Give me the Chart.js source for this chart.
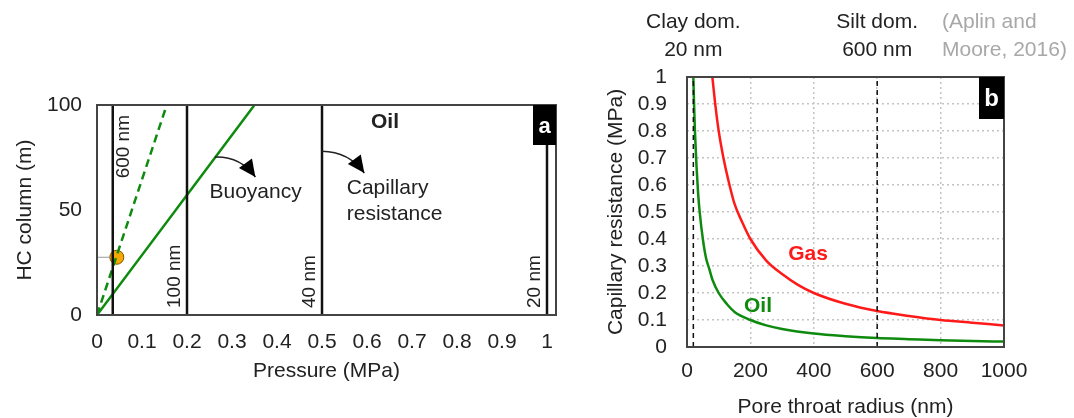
<!DOCTYPE html>
<html>
<head>
<meta charset="utf-8">
<script src="https://cdn.jsdelivr.net/npm/chart.js@4.4.0/dist/chart.umd.min.js"></script>
<style>
  html, body { margin: 0; padding: 0; background: #fff; }
  #wrap { position: relative; width: 1074px; height: 418px; }
  canvas { position: absolute; top: 0; }
  #chartA { left: 0; }
  #chartB { left: 580px; }
</style>
</head>
<body>
<div id="wrap">
  <canvas id="chartA" width="580" height="418"></canvas>
  <canvas id="chartB" width="494" height="418"></canvas>
</div>
<script>
// ---- panel a : HC column vs pressure ----
const pressureTicks = [0, 0.1, 0.2, 0.3, 0.4, 0.5, 0.6, 0.7, 0.8, 0.9, 1];
const columnTicks = [0, 50, 100];
const poreLabels = ['600 nm', '100 nm', '40 nm', '20 nm'];
const poreEntryPressure = [0.035, 0.2, 0.5, 1.0];
const buoyancySolid = [{ x: 0, y: 0 }, { x: 0.35, y: 100 }];
const buoyancyDashed = [{ x: 0, y: 0 }, { x: 0.155, y: 100 }];
const markerPoint = [{ x: 0.044, y: 27.5 }];

// ---- panel b : capillary resistance vs pore throat radius ----
const radiusTicks = [0, 200, 400, 600, 800, 1000];
const resistanceTicks = [0, 0.1, 0.2, 0.3, 0.4, 0.5, 0.6, 0.7, 0.8, 0.9, 1];
const oilRadius = [20, 22, 25, 30, 35, 40, 50, 60, 70, 80, 100, 125, 150, 200, 250, 300, 400, 500, 600, 700, 800, 900, 1000];
const oilResistance = [1.0, 0.91, 0.8, 0.67, 0.57, 0.5, 0.4, 0.33, 0.29, 0.25, 0.2, 0.16, 0.13, 0.1, 0.08, 0.067, 0.05, 0.04, 0.033, 0.029, 0.025, 0.022, 0.02];
const gasRadius = [80, 90, 100, 115, 130, 150, 175, 200, 250, 300, 350, 400, 500, 600, 700, 800, 900, 1000];
const gasResistance = [1.0, 0.89, 0.8, 0.7, 0.62, 0.53, 0.46, 0.4, 0.32, 0.27, 0.23, 0.2, 0.16, 0.133, 0.115, 0.1, 0.09, 0.08];
const domainRadius = [20, 600];
const domainLabels = [['Clay dom.', '20 nm'], ['Silt dom.', '600 nm']];

const FONT = "'Liberation Sans', Arial, sans-serif";
const TXT = '#222';
const GREEN = '#0e8a0e';
const RED = '#ff1a1a';

function arrow(ctx, x0, y0, x1, y1, bend) {
  const dx = x1 - x0, dy = y1 - y0, len = Math.hypot(dx, dy);
  const cx = (x0 + x1) / 2 + bend * dy / len;
  const cy = (y0 + y1) / 2 - bend * dx / len;
  ctx.save();
  ctx.strokeStyle = '#222';
  ctx.lineWidth = 1.5;
  ctx.beginPath();
  ctx.moveTo(x0, y0);
  ctx.quadraticCurveTo(cx, cy, x1, y1);
  ctx.stroke();
  const ang = Math.atan2(y1 - cy, x1 - cx);
  const L = 17, W = 8;
  ctx.fillStyle = '#000';
  ctx.beginPath();
  ctx.moveTo(x1, y1);
  ctx.lineTo(x1 - L * Math.cos(ang) + W * Math.sin(ang), y1 - L * Math.sin(ang) - W * Math.cos(ang));
  ctx.lineTo(x1 - L * Math.cos(ang) - W * Math.sin(ang), y1 - L * Math.sin(ang) + W * Math.cos(ang));
  ctx.closePath();
  ctx.fill();
  ctx.restore();
}

const panelA = {
  id: 'panelA',
  afterDatasetsDraw(chart) {
    const { ctx, chartArea: a, scales: { x, y } } = chart;
    ctx.save();
    // frame
    ctx.strokeStyle = '#444';
    ctx.lineWidth = 2;
    ctx.strokeRect(a.left, a.top, a.right - a.left, a.bottom - a.top);

    // pore size labels, rotated
    ctx.font = '19px ' + FONT;
    ctx.fillStyle = TXT;
    ctx.textBaseline = 'middle';
    poreLabels.forEach((lab, i) => {
      const px = x.getPixelForValue(poreEntryPressure[i]);
      ctx.save();
      if (i === 0) {
        ctx.translate(px + 11, a.top + 10);
        ctx.rotate(-Math.PI / 2);
        ctx.textAlign = 'right';
      } else {
        ctx.translate(px - 12, a.bottom - 7);
        ctx.rotate(-Math.PI / 2);
        ctx.textAlign = 'left';
      }
      ctx.fillText(lab, 0, 0);
      ctx.restore();
    });

    // annotations
    ctx.font = '21px ' + FONT;
    ctx.textAlign = 'left';
    ctx.fillText('Buoyancy', x.getPixelForValue(0.25), y.getPixelForValue(58.5));
    ctx.fillText('Capillary', x.getPixelForValue(0.555), y.getPixelForValue(60.5));
    ctx.fillText('resistance', x.getPixelForValue(0.555), y.getPixelForValue(48));
    ctx.font = 'bold 21px ' + FONT;
    ctx.textAlign = 'center';
    ctx.fillText('Oil', x.getPixelForValue(0.64), y.getPixelForValue(92));

    arrow(ctx, x.getPixelForValue(0.262), y.getPixelForValue(75.2),
               x.getPixelForValue(0.352), y.getPixelForValue(65.7), 12);
    arrow(ctx, x.getPixelForValue(0.5), y.getPixelForValue(78),
               x.getPixelForValue(0.594), y.getPixelForValue(67.6), 12);

    // panel letter
    ctx.fillStyle = '#000';
    ctx.fillRect(a.right - 23, a.top, 23, 40);
    ctx.fillStyle = '#fff';
    ctx.font = 'bold 22px ' + FONT;
    ctx.textAlign = 'center';
    ctx.fillText('a', a.right - 11.5, a.top + 22);
    ctx.restore();
  }
};

const panelB = {
  id: 'panelB',
  afterDatasetsDraw(chart) {
    const { ctx, chartArea: a, scales: { x, y } } = chart;
    ctx.save();
    ctx.strokeStyle = '#444';
    ctx.lineWidth = 2;
    ctx.strokeRect(a.left, a.top, a.right - a.left, a.bottom - a.top);

    ctx.font = 'bold 21px ' + FONT;
    ctx.textAlign = 'center';
    ctx.textBaseline = 'middle';
    ctx.fillStyle = RED;
    ctx.fillText('Gas', x.getPixelForValue(382), y.getPixelForValue(0.342));
    ctx.fillStyle = GREEN;
    ctx.fillText('Oil', x.getPixelForValue(224), y.getPixelForValue(0.152));

    // domain labels above the plot
    ctx.font = '21px ' + FONT;
    ctx.fillStyle = TXT;
    domainLabels.forEach((lines, i) => {
      const px = x.getPixelForValue(domainRadius[i]);
      ctx.fillText(lines[0], px, 22);
      ctx.fillText(lines[1], px, 50);
    });
    ctx.fillStyle = '#a8a8a8';
    ctx.textAlign = 'left';
    ctx.fillText('(Aplin and', 362, 22);
    ctx.fillText('Moore, 2016)', 362, 50);

    ctx.fillStyle = '#000';
    ctx.fillRect(a.right - 25, a.top, 25, 42);
    ctx.fillStyle = '#fff';
    ctx.font = 'bold 24px ' + FONT;
    ctx.textAlign = 'center';
    ctx.fillText('b', a.right - 12.5, a.top + 22);
    ctx.restore();
  }
};

const tickFont = { family: FONT, size: 21 };
const titleFont = { family: FONT, size: 21, lineHeight: 1 };

// panel a
new Chart(document.getElementById('chartA'), {
  type: 'scatter',
  data: {
    datasets: [
      ...poreEntryPressure.map(p => ({
        data: [{ x: p, y: 0 }, { x: p, y: 100 }],
        showLine: true, borderColor: '#111', borderWidth: 2.5, pointRadius: 0
      })),
      { data: buoyancySolid, showLine: true, borderColor: GREEN, borderWidth: 2.5, pointRadius: 0 },
      { data: buoyancyDashed, showLine: true, borderColor: GREEN, borderWidth: 2.5, borderDash: [8, 5], pointRadius: 0 },
      { data: [{ x: 0, y: markerPoint[0].y }, { x: 0.03, y: markerPoint[0].y }], showLine: true, borderColor: '#999', borderWidth: 1, pointRadius: 0 },
      { data: markerPoint, pointRadius: 7, backgroundColor: '#f7a800', borderColor: '#7a5800', borderWidth: 1 }
    ]
  },
  options: {
    responsive: false,
    animation: false,
    layout: { padding: { top: 105, right: 24, left: 0, bottom: 0 } },
    plugins: { legend: { display: false }, tooltip: { enabled: false } },
    scales: {
      x: {
        type: 'linear', min: 0, max: 1.02,
        afterBuildTicks: s => { s.ticks = pressureTicks.map(v => ({ value: v })); },
        afterFit: s => { s.height = 103; },
        grid: { display: false, drawTicks: false },
        border: { display: false },
        ticks: { padding: 15, font: tickFont, color: TXT, maxRotation: 0, autoSkip: false, callback: v => String(v) },
        title: { display: true, text: 'Pressure (MPa)', font: titleFont, color: TXT, padding: { top: 0, bottom: 36 } }
      },
      y: {
        type: 'linear', min: 0, max: 100,
        afterBuildTicks: s => { s.ticks = columnTicks.map(v => ({ value: v })); },
        afterFit: s => { s.width = 97; },
        grid: { display: false, drawTicks: false },
        border: { display: false },
        ticks: { padding: 15, font: tickFont, color: TXT, callback: v => String(v) },
        title: { display: true, text: 'HC column (m)', font: titleFont, color: TXT, padding: { top: 15, bottom: 0 } }
      }
    }
  },
  plugins: [panelA]
});

// panel b
new Chart(document.getElementById('chartB'), {
  type: 'scatter',
  data: {
    datasets: [
      ...domainRadius.map(r => ({
        data: [{ x: r, y: 0 }, { x: r, y: 1 }],
        showLine: true, borderColor: '#111', borderWidth: 1.5, borderDash: [5, 4], pointRadius: 0
      })),
      {
        data: gasRadius.map((r, i) => ({ x: r, y: gasResistance[i] })),
        showLine: true, borderColor: RED, borderWidth: 2.5, pointRadius: 0, cubicInterpolationMode: 'monotone'
      },
      {
        data: oilRadius.map((r, i) => ({ x: r, y: oilResistance[i] })),
        showLine: true, borderColor: GREEN, borderWidth: 2.5, pointRadius: 0, cubicInterpolationMode: 'monotone'
      }
    ]
  },
  options: {
    responsive: false,
    animation: false,
    layout: { padding: { top: 77, right: 70, left: 0, bottom: 0 } },
    plugins: { legend: { display: false }, tooltip: { enabled: false } },
    scales: {
      x: {
        type: 'linear', min: 0, max: 1000,
        afterBuildTicks: s => { s.ticks = radiusTicks.map(v => ({ value: v })); },
        afterFit: s => { s.height = 71; },
        grid: { color: '#c4c4c4', lineWidth: 1.5, drawTicks: false },
        border: { display: false, dash: [2, 3] },
        ticks: { padding: 12, font: tickFont, color: TXT, maxRotation: 0, autoSkip: false, callback: v => String(v) },
        title: { display: true, text: 'Pore throat radius (nm)', font: titleFont, color: TXT, padding: { top: 0, bottom: 0 } }
      },
      y: {
        type: 'linear', min: 0, max: 1,
        afterBuildTicks: s => { s.ticks = resistanceTicks.map(v => ({ value: v })); },
        afterFit: s => { s.width = 107; },
        grid: { color: '#c4c4c4', lineWidth: 1.5, drawTicks: false },
        border: { display: false, dash: [2, 3] },
        ticks: { padding: 20, font: tickFont, color: TXT, autoSkip: false, callback: v => String(v) },
        title: { display: true, text: 'Capillary resistance (MPa)', font: titleFont, color: TXT, padding: { top: 26, bottom: 0 } }
      }
    }
  },
  plugins: [panelB]
});
</script>
</body>
</html>
